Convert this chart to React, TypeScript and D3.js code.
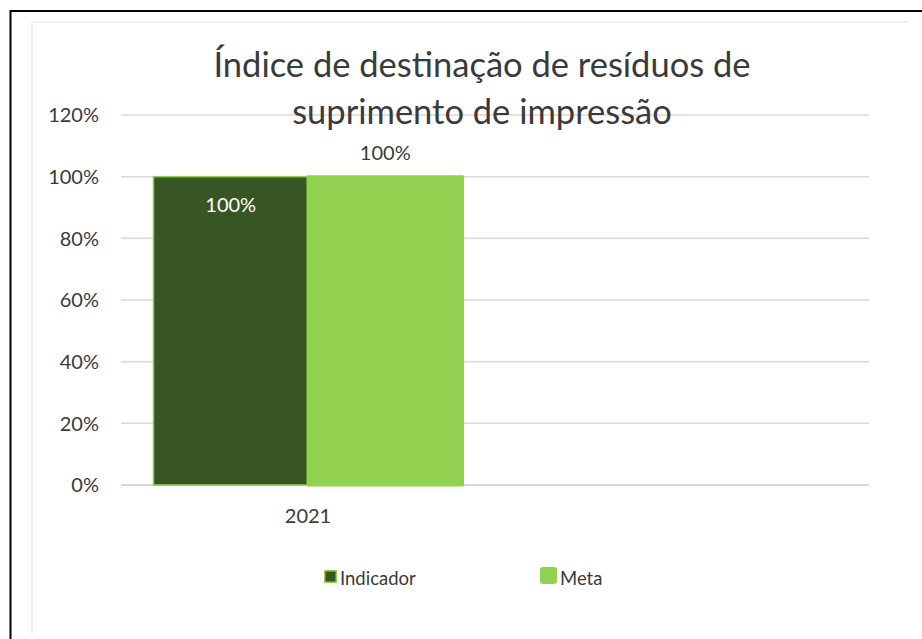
import React, { useEffect, useRef } from 'react';
import * as d3 from 'd3';

// chart data
const categories = ['2021', ''];
const seriesNames = ['Indicador', 'Meta'];
const indicador = [1.0, null];
const meta = [1.0, null];
const yTicks = [0, 0.2, 0.4, 0.6, 0.8, 1.0, 1.2];
const titleLines = ['Índice de destinação de resíduos de', 'suprimento de impressão'];

const W = 922;
const H = 639;
const FONT = 'Lato, "Open Sans", sans-serif';
const TEXT = '#3a3a3a';
const DARK = '#375623';
const LIGHT = '#92D050';
const GRID = '#d9d9d9';

const App = () => {
  const svgRef = useRef<SVGSVGElement>(null);

  useEffect(() => {
    const svg = d3.select(svgRef.current);
    svg.selectAll('*').remove();

    const margin = { top: 115, right: 53, bottom: 154, left: 121 };
    const innerW = W - margin.left - margin.right;
    const innerH = H - margin.top - margin.bottom;

    // outer frame (cut off at right and bottom)
    svg.append('path')
      .attr('d', `M10.5,${H} V11 H${W}`)
      .attr('fill', 'none')
      .attr('stroke', '#000')
      .attr('stroke-width', 2);

    // chart area border
    svg.append('path')
      .attr('d', `M32,634 V22 H908`)
      .attr('fill', 'none')
      .attr('stroke', '#e3e3e3')
      .attr('stroke-width', 1);

    const x0 = d3.scaleBand<string>()
      .domain(categories)
      .range([0, innerW])
      .paddingInner(0)
      .paddingOuter(0);

    const x1 = d3.scaleBand<string>()
      .domain(seriesNames)
      .range([0, x0.bandwidth()])
      .paddingInner(0)
      .paddingOuter(0.21);

    const y = d3.scaleLinear()
      .domain([0, 1.2])
      .range([innerH, 0]);

    const g = svg.append('g')
      .attr('transform', `translate(${margin.left},${margin.top})`);

    // gridlines
    g.selectAll('.grid')
      .data(yTicks)
      .enter().append('line')
      .attr('x1', 0)
      .attr('x2', innerW)
      .attr('y1', d => y(d))
      .attr('y2', d => y(d))
      .attr('stroke', GRID)
      .attr('stroke-width', d => (d === 0 ? 2 : 1.5));

    // y labels
    g.selectAll('.ylab')
      .data(yTicks)
      .enter().append('text')
      .attr('x', -22)
      .attr('y', d => y(d))
      .attr('dy', '0.36em')
      .attr('text-anchor', 'end')
      .attr('font-family', FONT)
      .attr('font-size', 20)
      .attr('fill', TEXT)
      .text(d => d3.format('.0%')(d));

    // category labels
    g.selectAll('.xlab')
      .data(categories)
      .enter().append('text')
      .attr('x', d => (x0(d) ?? 0) + x0.bandwidth() / 2)
      .attr('y', innerH + 38)
      .attr('text-anchor', 'middle')
      .attr('font-family', FONT)
      .attr('font-size', 20)
      .attr('fill', TEXT)
      .text(d => d);

    const rows = categories.map((c, i) => ({ c, ind: indicador[i], meta: meta[i] }));

    // Indicador bars
    g.selectAll('.bar-ind')
      .data(rows.filter(r => r.ind != null))
      .enter().append('rect')
      .attr('x', d => (x0(d.c) ?? 0) + (x1('Indicador') ?? 0))
      .attr('y', d => y(d.ind as number))
      .attr('width', x1.bandwidth())
      .attr('height', d => innerH - y(d.ind as number))
      .attr('fill', DARK)
      .attr('stroke', LIGHT)
      .attr('stroke-width', 1.5);

    // Meta bars
    g.selectAll('.bar-meta')
      .data(rows.filter(r => r.meta != null))
      .enter().append('rect')
      .attr('x', d => (x0(d.c) ?? 0) + (x1('Meta') ?? 0))
      .attr('y', d => y(d.meta as number))
      .attr('width', x1.bandwidth())
      .attr('height', d => innerH - y(d.meta as number))
      .attr('fill', LIGHT)
      .attr('stroke', LIGHT)
      .attr('stroke-width', 3)
      .attr('stroke-linejoin', 'round');

    // data labels
    g.selectAll('.lab-ind')
      .data(rows.filter(r => r.ind != null))
      .enter().append('text')
      .attr('x', d => (x0(d.c) ?? 0) + (x1('Indicador') ?? 0) + x1.bandwidth() / 2)
      .attr('y', d => y(d.ind as number) + 35)
      .attr('text-anchor', 'middle')
      .attr('font-family', FONT)
      .attr('font-size', 20)
      .attr('fill', '#fff')
      .text(d => d3.format('.0%')(d.ind as number));

    g.selectAll('.lab-meta')
      .data(rows.filter(r => r.meta != null))
      .enter().append('text')
      .attr('x', d => (x0(d.c) ?? 0) + (x1('Meta') ?? 0) + x1.bandwidth() / 2)
      .attr('y', d => y(d.meta as number) - 17)
      .attr('text-anchor', 'middle')
      .attr('font-family', FONT)
      .attr('font-size', 20)
      .attr('fill', TEXT)
      .text(d => d3.format('.0%')(d.meta as number));

    // title
    svg.append('text')
      .attr('x', 482)
      .attr('text-anchor', 'middle')
      .attr('font-family', FONT)
      .attr('font-size', 34.5)
      .attr('fill', TEXT)
      .selectAll('tspan')
      .data(titleLines)
      .enter().append('tspan')
      .attr('x', 482)
      .attr('y', (_, i) => 77 + i * 47)
      .text(d => d);

    // legend
    const legend = svg.append('g').attr('transform', 'translate(324,570)');
    const items = legend.selectAll('.item')
      .data(seriesNames)
      .enter().append('g')
      .attr('transform', (_, i) => `translate(${i * 218},0)`);

    items.append('rect')
      .attr('x', (_, i) => (i === 0 ? 0.75 : -0.5))
      .attr('y', (_, i) => (i === 0 ? 0.75 : -1.5))
      .attr('width', (_, i) => (i === 0 ? 11.5 : 14))
      .attr('height', (_, i) => (i === 0 ? 11.5 : 14))
      .attr('rx', (_, i) => (i === 0 ? 0 : 1.5))
      .attr('fill', (_, i) => (i === 0 ? DARK : LIGHT))
      .attr('stroke', LIGHT)
      .attr('stroke-width', (_, i) => (i === 0 ? 1.5 : 3))
      .attr('stroke-linejoin', 'round');

    items.append('text')
      .attr('x', (_, i) => (i === 0 ? 16 : 18))
      .attr('y', 14.5)
      .attr('font-family', FONT)
      .attr('font-size', 18.5)
      .attr('fill', TEXT)
      .text(d => d);
  }, []);

  return (
    <svg
      ref={svgRef}
      width={W}
      height={H}
      style={{ position: 'absolute', left: 0, top: 0, display: 'block', background: '#fff' }}
    />
  );
};

export default App;
